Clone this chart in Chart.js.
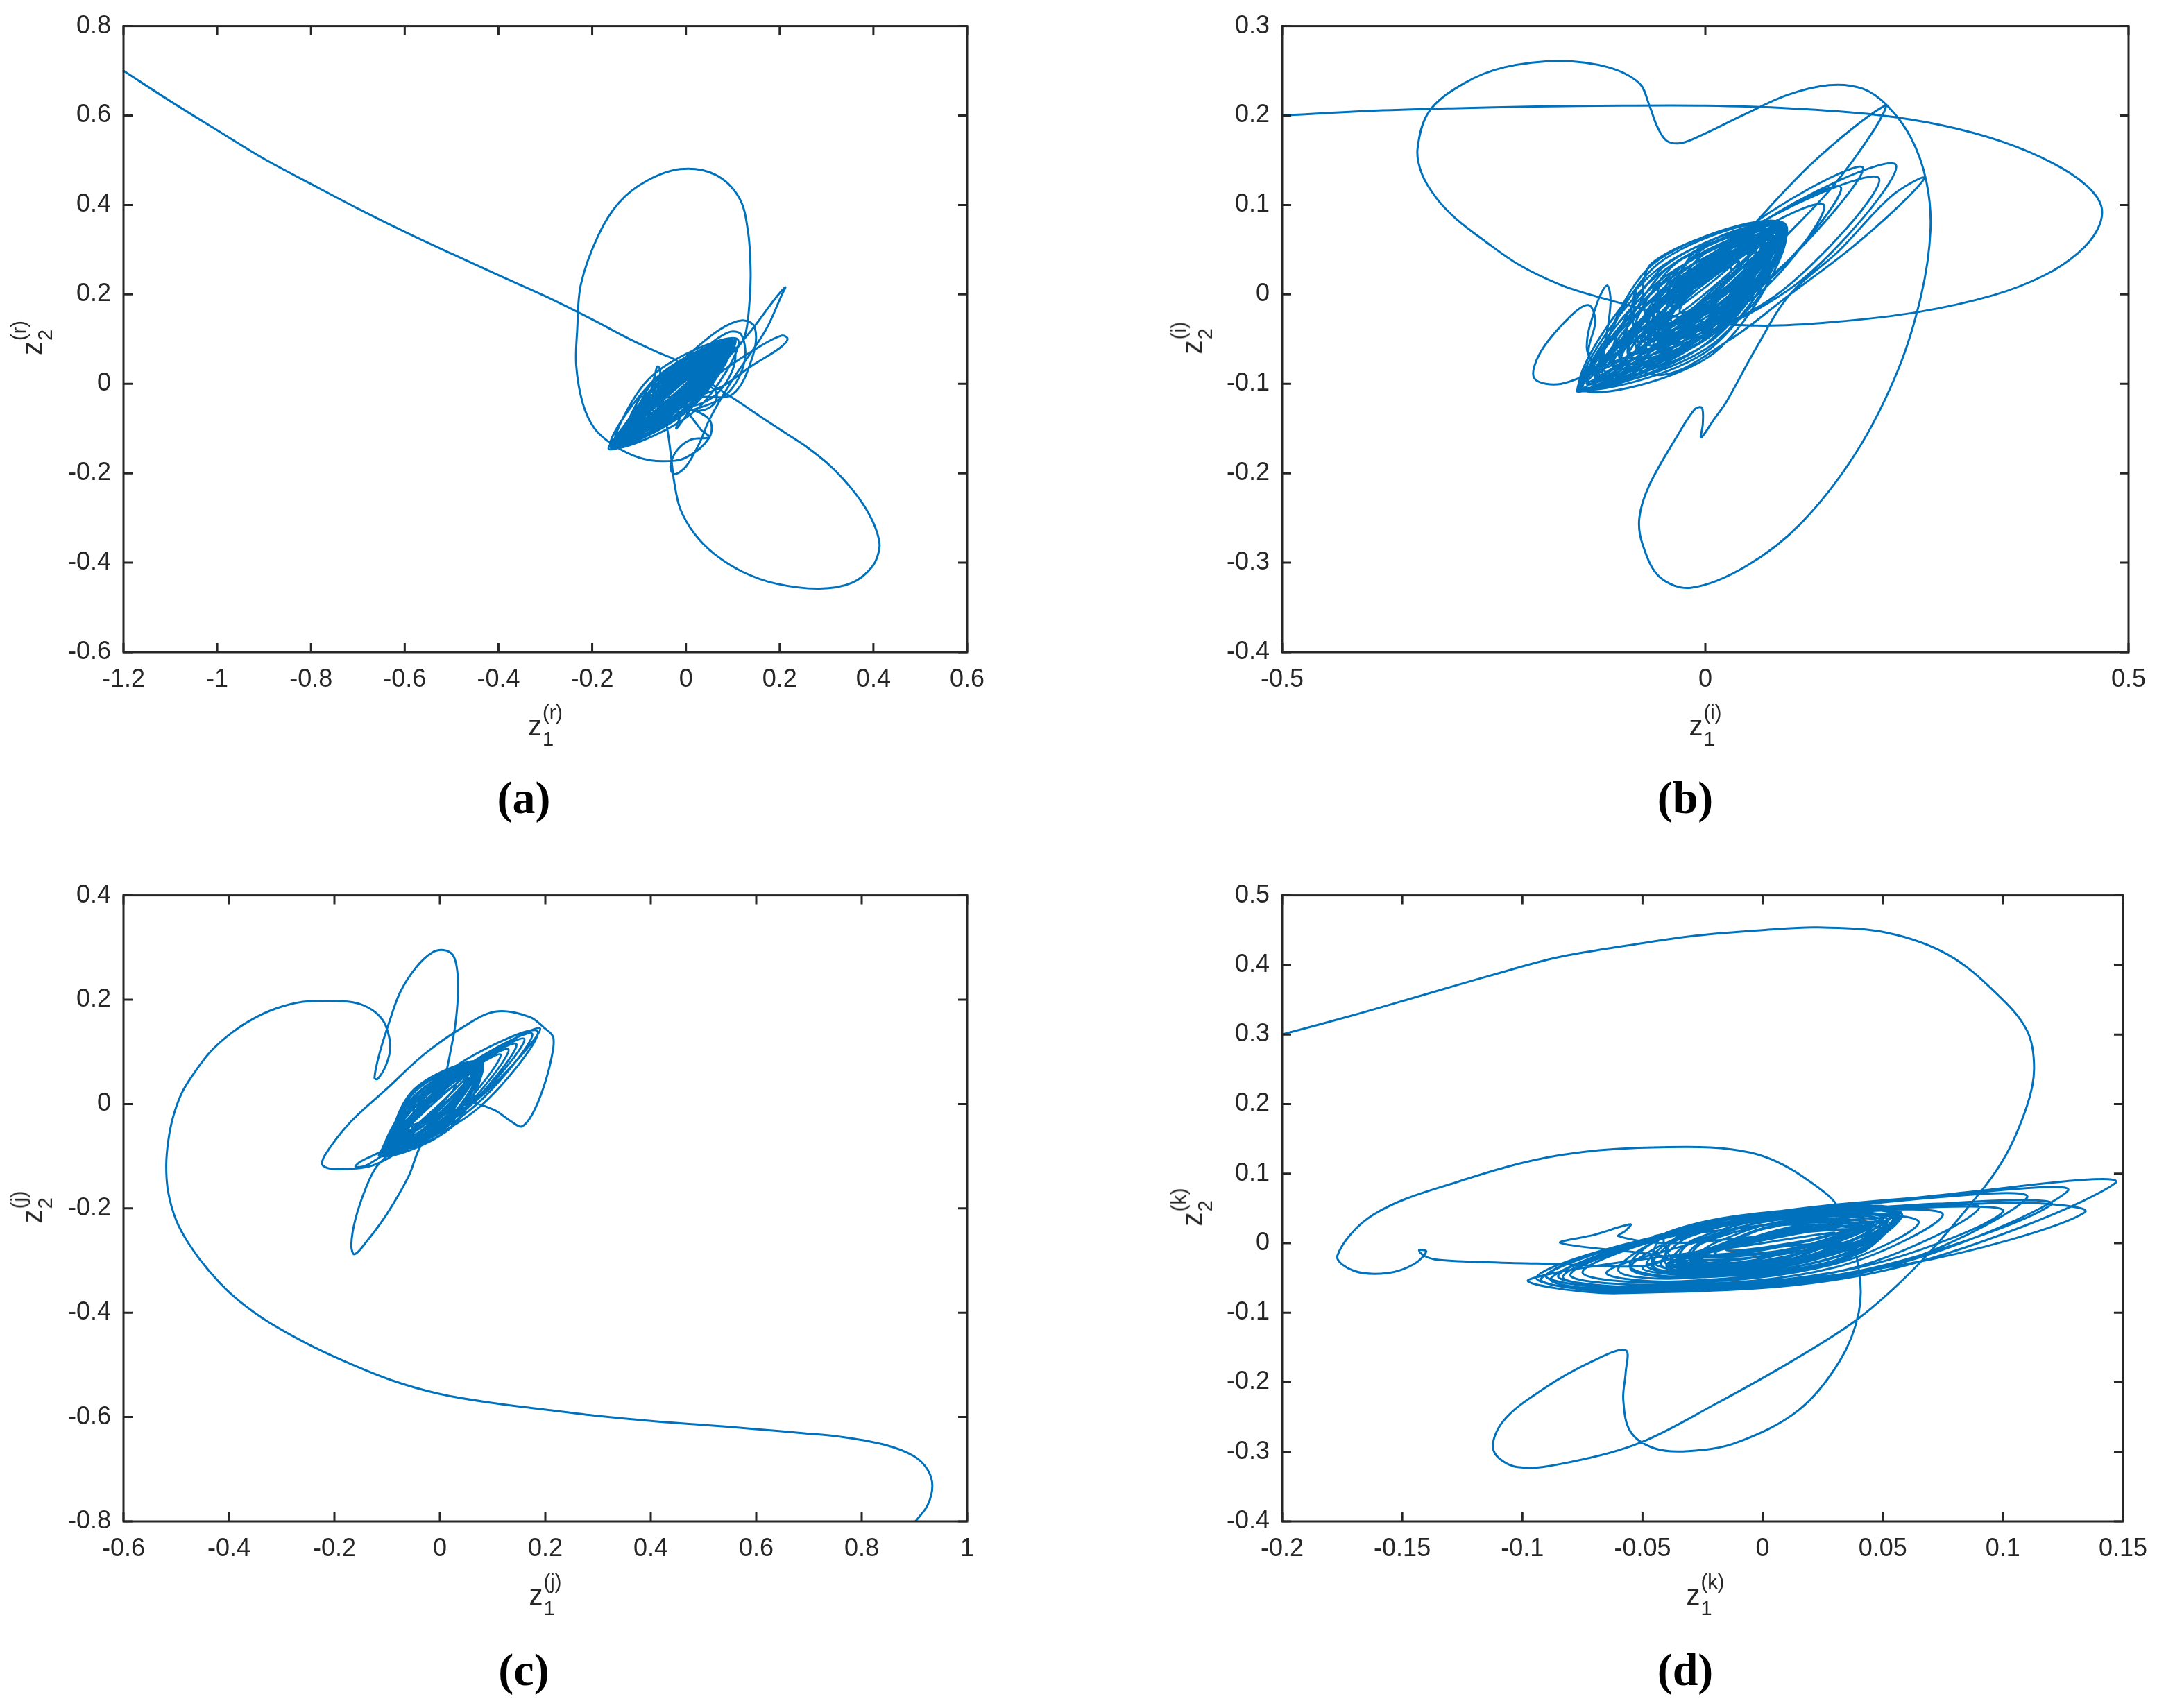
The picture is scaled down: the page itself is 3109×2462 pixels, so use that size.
<!DOCTYPE html>
<html>
<head>
<meta charset="utf-8">
<script src="https://cdn.jsdelivr.net/npm/chart.js@4.4.1/dist/chart.umd.min.js"></script>
<style>
  html, body { margin: 0; padding: 0; background: #fff; }
  body { width: 3109px; height: 2462px; position: relative; overflow: hidden; font-family: "Liberation Sans", Arial, sans-serif; color: #262626; }
  .panel { position: absolute; }
  .xt, .yt { position: absolute; white-space: nowrap; font-size: 40px; line-height: 1; display: flex; align-items: center; }
  .xt { transform: translate(-50%, -50%); }
  .yt { transform: translate(-50%, -50%) rotate(-90deg); }
  .ss { display: inline-flex; flex-direction: column; font-size: 29px; line-height: 1; margin-left: 1px; }
  .ss .sup { transform: translateY(-4px); }
  .ss .sub { transform: translateY(5px); }
  .tag { position: absolute; transform: translate(-50%, -50%); font-family: "Liberation Serif", "DejaVu Serif", serif; font-weight: bold; font-size: 66px; color: #000; }
</style>
</head>
<body>

<div class="panel" style="left:28px;top:-2px;width:1411px;height:1022px"><canvas id="chartA" width="1411" height="1022"></canvas></div>
<div class="panel" style="left:1698px;top:-2px;width:1415px;height:1022px"><canvas id="chartB" width="1415" height="1022"></canvas></div>
<div class="panel" style="left:28px;top:1251px;width:1411px;height:1022px"><canvas id="chartC" width="1411" height="1022"></canvas></div>
<div class="panel" style="left:1698px;top:1251px;width:1415px;height:1022px"><canvas id="chartD" width="1415" height="1022"></canvas></div>

<div class="xt" style="left:786px;top:1046px">z<span class="ss"><span class="sup">(r)</span><span class="sub">1</span></span></div>
<div class="yt" style="left:46px;top:487px">z<span class="ss"><span class="sup">(r)</span><span class="sub">2</span></span></div>
<div class="xt" style="left:2458px;top:1046px">z<span class="ss"><span class="sup">(i)</span><span class="sub">1</span></span></div>
<div class="yt" style="left:1718px;top:487px">z<span class="ss"><span class="sup">(i)</span><span class="sub">2</span></span></div>
<div class="xt" style="left:786px;top:2299px">z<span class="ss"><span class="sup">(j)</span><span class="sub">1</span></span></div>
<div class="yt" style="left:46px;top:1740px">z<span class="ss"><span class="sup">(j)</span><span class="sub">2</span></span></div>
<div class="xt" style="left:2458px;top:2299px">z<span class="ss"><span class="sup">(k)</span><span class="sub">1</span></span></div>
<div class="yt" style="left:1718px;top:1740px">z<span class="ss"><span class="sup">(k)</span><span class="sub">2</span></span></div>

<div class="tag" style="left:755px;top:1150px">(a)</div>
<div class="tag" style="left:2429px;top:1150px">(b)</div>
<div class="tag" style="left:755px;top:2407px">(c)</div>
<div class="tag" style="left:2429px;top:2407px">(d)</div>

<script>
// (a) z1(r) vs z2(r)
const aApproach = [
    [-1.2, 0.700], [-1.1, 0.632], [-1.0, 0.567], [-0.9, 0.503], [-0.8, 0.447], [-0.7, 0.392],
    [-0.6, 0.340], [-0.5, 0.291], [-0.4, 0.243], [-0.3, 0.196], [-0.2, 0.144], [-0.12, 0.100],
    [-0.05, 0.066], [-0.023, 0.054], [0.03, 0.016], [0.105, -0.035], [0.16, -0.074], [0.22, -0.115],
    [0.26, -0.143], [0.30, -0.176], [0.335, -0.212], [0.365, -0.250], [0.390, -0.290], [0.407, -0.330],
    [0.413, -0.365], [0.398, -0.408], [0.354, -0.445], [0.285, -0.458], [0.193, -0.447], [0.12, -0.420],
    [0.06, -0.380], [0.018, -0.335], [-0.012, -0.280], [-0.025, -0.220], [-0.032, -0.160], [-0.040, -0.100],
    [-0.050, -0.060]
];
const aFill = [
    [-0.120, -0.106], [-0.026, -0.028], [0.060, 0.059], [-0.034, -0.019],
    [-0.100, -0.088], [-0.003, -0.013], [0.080, 0.077], [-0.017, 0.002],
    [-0.140, -0.124], [-0.042, -0.051], [0.040, 0.040], [-0.058, -0.033],
    [-0.080, -0.070], [0.010, 0.002], [0.090, 0.086], [0.000, 0.014],
    [-0.150, -0.133], [-0.060, -0.061], [0.020, 0.022], [-0.070, -0.050],
    [-0.060, -0.050], [0.027, 0.015], [0.100, 0.095], [0.013, 0.030],
    [-0.130, -0.115], [-0.028, -0.026], [0.070, 0.068], [-0.032, -0.021],
    [-0.155, -0.138], [-0.025, -0.025], [0.100, 0.094], [-0.030, -0.019],
    [-0.110, -0.098], [0.003, -0.016], [0.095, 0.090], [-0.018, 0.008],
    [-0.140, -0.126], [-0.015, -0.036], [0.085, 0.080], [-0.040, -0.010]
];
const aCore = [
    [-0.156, -0.139], [-0.004, -0.048], [0.100, 0.095], [-0.052, 0.004],
    [-0.150, -0.133], [-0.009, -0.042], [0.095, 0.090], [-0.046, 0.000],
    [-0.160, -0.140], [-0.020, -0.045], [0.090, 0.082], [-0.050, -0.013],
    [-0.140, -0.125], [0.007, -0.047], [0.100, 0.090], [-0.047, 0.012],
    [-0.120, -0.105], [0.003, -0.035], [0.085, 0.080], [-0.038, 0.010],
    [-0.100, -0.090], [0.002, -0.031], [0.070, 0.065], [-0.032, 0.006],
    [-0.158, -0.140], [0.004, -0.053], [0.105, 0.100], [-0.057, 0.013],
    [-0.080, -0.070], [0.004, -0.021], [0.060, 0.058], [-0.024, 0.009],
    [-0.165, -0.145], [0.000, -0.063], [0.098, 0.092], [-0.067, 0.010],
    [-0.130, -0.120], [-0.005, -0.024], [0.100, 0.095], [-0.025, -0.001],
    [-0.155, -0.140], [-0.031, -0.040], [0.080, 0.075], [-0.044, -0.025],
    [-0.145, -0.130], [0.010, -0.055], [0.095, 0.085], [-0.060, 0.015],
    [-0.160, -0.142], [0.020, -0.060], [0.110, 0.100], [-0.070, 0.020],
    [-0.152, -0.137], [-0.014, -0.036], [0.098, 0.094], [-0.041, -0.007],
    [-0.145, -0.130], [-0.018, -0.030], [0.092, 0.088], [-0.035, -0.012],
    [-0.135, -0.122], [0.001, -0.037], [0.097, 0.092], [-0.039, 0.007],
    [-0.125, -0.112], [-0.003, -0.030], [0.090, 0.085], [-0.032, 0.003],
    [-0.110, -0.100], [0.016, -0.031], [0.095, 0.090], [-0.031, 0.021],
    [-0.090, -0.080], [0.014, -0.023], [0.080, 0.075], [-0.024, 0.018],
    [-0.157, -0.140], [-0.022, -0.027], [0.102, 0.097], [-0.033, -0.016],
    [-0.148, -0.135], [-0.011, -0.051], [0.085, 0.078], [-0.052, -0.006],
    [-0.160, -0.143], [-0.003, -0.055], [0.100, 0.093], [-0.057, 0.005],
    [-0.140, -0.128], [0.011, -0.049], [0.102, 0.096], [-0.049, 0.017],
    [-0.070, -0.060], [0.000, -0.016], [0.050, 0.050], [-0.020, 0.006],
    [-0.115, -0.105], [-0.010, -0.029], [0.075, 0.070], [-0.030, -0.006],
    [-0.155, -0.138], [-0.013, -0.042], [0.096, 0.092], [-0.046, -0.005],
    [-0.150, -0.135], [0.009, -0.056], [0.100, 0.096], [-0.059, 0.017],
    [-0.110, -0.100], [0.000, -0.040]
];
const aLoops = [
    [0.030, -0.030], [0.100, -0.023], [0.142, 0.060], [0.147, 0.126], [0.120, 0.142], [0.070, 0.120],
    [0.000, 0.060], [-0.060, 0.000], [-0.030, -0.060], [0.027, -0.054], [0.090, -0.020], [0.125, 0.050],
    [0.118, 0.110], [0.090, 0.115], [0.030, 0.070], [-0.040, 0.000], [-0.020, -0.050], [0.050, -0.035],
    [0.095, 0.020], [0.105, 0.080], [0.085, 0.095], [0.040, 0.060], [0.000, -0.005], [0.000, -0.050],
    [0.030, -0.060], [0.060, -0.045], [0.065, -0.020], [0.045, -0.005], [0.015, -0.020], [-0.020, -0.100],
    [0.060, 0.020], [0.140, 0.120], [0.190, 0.190], [0.212, 0.216], [0.205, 0.200], [0.170, 0.120],
    [0.100, 0.010], [0.050, -0.080], [0.030, -0.130], [0.000, -0.185], [-0.025, -0.202], [-0.033, -0.185],
    [-0.020, -0.150], [0.010, -0.125], [0.049, -0.119], [0.030, -0.100], [0.000, -0.040], [0.080, 0.030],
    [0.160, 0.085], [0.205, 0.108], [0.217, 0.100], [0.200, 0.080], [0.140, 0.040], [0.070, -0.010],
    [0.000, -0.030], [-0.070, -0.020], [-0.065, 0.025], [-0.060, 0.039], [-0.055, 0.030], [-0.055, -0.010],
    [0.000, -0.050]
];
const aTallLoop = [
    [0.050, -0.080], [0.050, -0.120], [0.000, -0.165], [-0.050, -0.173], [-0.100, -0.165], [-0.156, -0.136],
    [-0.195, -0.100], [-0.220, -0.044], [-0.234, 0.040], [-0.232, 0.120], [-0.224, 0.223], [-0.187, 0.332],
    [-0.143, 0.405], [-0.085, 0.453], [-0.012, 0.480], [0.062, 0.468], [0.113, 0.417], [0.132, 0.344],
    [0.138, 0.251], [0.135, 0.174], [0.125, 0.105], [0.100, 0.070], [0.050, 0.030]
];

// (b) z1(i) vs z2(i)
const bApproach = [
    [-0.5, 0.200], [-0.4, 0.205], [-0.3, 0.208], [-0.2, 0.210], [-0.1, 0.211], [0.0, 0.211],
    [0.1, 0.208], [0.2, 0.201], [0.28, 0.189], [0.35, 0.171], [0.41, 0.147], [0.45, 0.122],
    [0.468, 0.098], [0.463, 0.072], [0.44, 0.046], [0.40, 0.021], [0.34, -0.001], [0.25, -0.020],
    [0.15, -0.031], [0.07, -0.035], [0.0, -0.031], [-0.074, -0.016], [-0.13, -0.002], [-0.172, 0.011],
    [-0.22, 0.033], [-0.261, 0.060], [-0.295, 0.085], [-0.318, 0.108], [-0.335, 0.135], [-0.340, 0.163],
    [-0.326, 0.205], [-0.285, 0.236], [-0.237, 0.254], [-0.172, 0.261], [-0.115, 0.254], [-0.078, 0.236],
    [-0.066, 0.211], [-0.057, 0.188], [-0.046, 0.172], [-0.030, 0.169], [-0.009, 0.176], [0.048, 0.202],
    [0.097, 0.223], [0.146, 0.234], [0.186, 0.230], [0.215, 0.211], [0.243, 0.175], [0.261, 0.127],
    [0.266, 0.072], [0.255, -0.001], [0.227, -0.086], [0.178, -0.177], [0.113, -0.256], [0.048, -0.304],
    [-0.017, -0.328], [-0.054, -0.316], [-0.074, -0.280], [-0.078, -0.250], [-0.066, -0.213], [-0.033, -0.158],
    [-0.012, -0.128], [-0.004, -0.127], [-0.003, -0.145], [-0.005, -0.160], [0.010, -0.140], [0.025, -0.120],
    [0.060, -0.060], [0.100, 0.000], [0.157, 0.048], [0.220, 0.110], [0.259, 0.131], [0.230, 0.100],
    [0.170, 0.050], [0.100, 0.000], [0.030, -0.050], [-0.050, -0.090]
];
const bFill = [
    [-0.100, -0.068], [-0.017, -0.012], [0.060, 0.052], [-0.023, -0.004],
    [-0.120, -0.083], [-0.013, -0.018], [0.080, 0.067], [-0.027, 0.002],
    [-0.080, -0.053], [0.011, 0.003], [0.090, 0.075], [-0.001, 0.019],
    [-0.140, -0.098], [-0.044, -0.039], [0.040, 0.037], [-0.056, -0.023],
    [-0.060, -0.038], [0.027, 0.002], [0.090, 0.074], [0.003, 0.034],
    [-0.130, -0.090], [-0.018, -0.031], [0.070, 0.060], [-0.042, 0.001],
    [-0.090, -0.065], [-0.002, -0.034], [0.050, 0.045], [-0.038, 0.014],
    [-0.070, -0.050], [0.020, -0.013], [0.080, 0.065], [-0.010, 0.028],
    [-0.110, -0.078], [-0.028, -0.040], [0.030, 0.030], [-0.052, -0.008],
    [-0.050, -0.035], [0.017, 0.000], [0.070, 0.055], [0.003, 0.020],
    [-0.066, -0.050], [0.039, -0.018], [0.094, 0.077], [-0.011, 0.045],
    [-0.060, -0.046], [0.034, -0.009], [0.090, 0.074], [-0.004, 0.037],
    [-0.055, -0.043], [0.027, -0.002], [0.085, 0.070], [0.003, 0.029],
    [-0.050, -0.040], [0.021, 0.005], [0.080, 0.066], [0.009, 0.021],
    [-0.065, -0.050], [0.036, -0.014], [0.094, 0.077], [-0.007, 0.041],
    [-0.040, -0.030], [0.031, -0.005], [0.070, 0.060], [-0.001, 0.035],
    [-0.066, -0.050], [0.021, -0.001], [0.090, 0.072], [0.003, 0.023],
    [-0.030, -0.020], [0.024, 0.003], [0.060, 0.050], [0.006, 0.027],
    [-0.060, -0.048], [0.045, -0.022], [0.094, 0.075], [-0.011, 0.049],
    [-0.050, -0.045], [0.018, 0.010], [0.080, 0.072], [0.012, 0.017]
];
const bCore = [
    [-0.151, -0.106], [0.001, -0.055], [0.093, 0.077], [-0.059, 0.026],
    [-0.148, -0.104], [-0.005, -0.048], [0.090, 0.072], [-0.053, 0.016],
    [-0.140, -0.098], [0.011, -0.054], [0.095, 0.078], [-0.056, 0.034],
    [-0.120, -0.085], [0.010, -0.044], [0.085, 0.070], [-0.045, 0.029],
    [-0.100, -0.075], [0.014, -0.037], [0.080, 0.065], [-0.034, 0.027],
    [-0.151, -0.106], [-0.026, -0.043], [0.070, 0.060], [-0.056, -0.003],
    [-0.080, -0.060], [0.016, -0.031], [0.070, 0.055], [-0.026, 0.026],
    [-0.145, -0.105], [0.011, -0.065], [0.093, 0.075], [-0.063, 0.035],
    [-0.060, -0.045], [0.015, -0.020], [0.060, 0.045], [-0.015, 0.020],
    [-0.130, -0.095], [-0.002, -0.036], [0.090, 0.072], [-0.038, 0.013],
    [-0.150, -0.105], [-0.003, -0.051], [0.090, 0.075], [-0.057, 0.021],
    [-0.146, -0.103], [-0.008, -0.045], [0.088, 0.070], [-0.050, 0.012],
    [-0.140, -0.100], [-0.016, -0.032], [0.085, 0.068], [-0.040, 0.000],
    [-0.130, -0.094], [0.011, -0.049], [0.092, 0.076], [-0.049, 0.031],
    [-0.110, -0.080], [0.017, -0.039], [0.090, 0.074], [-0.037, 0.033],
    [-0.090, -0.070], [0.022, -0.032], [0.085, 0.070], [-0.027, 0.032],
    [-0.070, -0.055], [0.021, -0.021], [0.075, 0.062], [-0.016, 0.028],
    [-0.050, -0.040], [0.020, -0.009], [0.065, 0.055], [-0.005, 0.024],
    [-0.151, -0.107], [-0.030, -0.029], [0.080, 0.065], [-0.042, -0.013],
    [-0.149, -0.105], [0.007, -0.060], [0.093, 0.078], [-0.063, 0.033],
    [-0.120, -0.090], [0.002, -0.033], [0.088, 0.072], [-0.034, 0.015],
    [-0.100, -0.078], [0.000, -0.030], [0.070, 0.058], [-0.030, 0.010],
    [-0.145, -0.104], [-0.017, -0.046], [0.075, 0.060], [-0.053, 0.002],
    [-0.130, -0.095], [-0.009, -0.020], [0.094, 0.079], [-0.027, 0.004],
    [-0.080, -0.065], [0.071, 0.015], [0.186, 0.142], [0.035, 0.063],
    [-0.060, -0.060], [0.107, 0.011], [0.225, 0.145], [0.059, 0.075],
    [-0.070, -0.060], [0.063, 0.006], [0.160, 0.120], [0.027, 0.054],
    [-0.050, -0.050], [0.063, 0.001], [0.140, 0.100], [0.027, 0.049],
    [-0.090, -0.070], [0.082, -0.002], [0.205, 0.130], [0.034, 0.062],
    [-0.151, -0.106], [-0.100, -0.094], [-0.060, -0.075], [0.000, -0.045], [0.050, 0.020], [-0.020, -0.020],
    [-0.080, -0.060]
];
const bLoops = [
    [0.048, 0.069], [0.130, 0.150], [0.212, 0.211], [0.200, 0.185], [0.150, 0.120], [0.090, 0.060],
    [0.000, -0.030], [-0.120, -0.080], [-0.170, -0.100], [-0.202, -0.094], [-0.195, -0.065], [-0.160, -0.025],
    [-0.138, -0.012], [-0.130, -0.030], [-0.138, -0.065], [-0.125, -0.090], [-0.140, -0.060], [-0.128, -0.010],
    [-0.116, 0.010], [-0.112, -0.010], [-0.120, -0.060], [-0.130, -0.090], [-0.100, -0.060], [-0.082, 0.006],
    [-0.085, -0.040], [-0.070, -0.050], [-0.054, 0.012], [-0.060, -0.030], [-0.040, -0.040], [0.000, -0.010]
];

// (c) z1(j) vs z2(j)
const cApproach = [
    [0.902, -0.800], [0.925, -0.769], [0.934, -0.732], [0.925, -0.701], [0.899, -0.675], [0.847, -0.654],
    [0.769, -0.639], [0.68, -0.630], [0.599, -0.623], [0.50, -0.615], [0.404, -0.608], [0.30, -0.598],
    [0.209, -0.587], [0.10, -0.573], [0.001, -0.556], [-0.09, -0.530], [-0.181, -0.493], [-0.26, -0.455],
    [-0.337, -0.410], [-0.395, -0.365], [-0.441, -0.316], [-0.476, -0.268], [-0.500, -0.223], [-0.515, -0.170],
    [-0.519, -0.119], [-0.515, -0.070], [-0.506, -0.025], [-0.490, 0.020], [-0.467, 0.058], [-0.438, 0.097],
    [-0.402, 0.131], [-0.36, 0.160], [-0.311, 0.183], [-0.26, 0.196], [-0.207, 0.198], [-0.165, 0.195],
    [-0.142, 0.188], [-0.118, 0.172], [-0.103, 0.151], [-0.094, 0.110], [-0.102, 0.075], [-0.118, 0.048],
    [-0.124, 0.050], [-0.115, 0.095], [-0.095, 0.160], [-0.075, 0.215], [-0.045, 0.262], [-0.015, 0.290],
    [0.007, 0.295], [0.025, 0.285], [0.033, 0.255], [0.034, 0.205], [0.029, 0.150], [0.020, 0.100],
    [0.012, 0.060], [0.005, 0.030]
];
const cFill = [
    [-0.090, -0.077], [-0.012, -0.011], [0.060, 0.062], [-0.018, -0.004],
    [-0.100, -0.086], [-0.007, -0.017], [0.070, 0.070], [-0.023, 0.001],
    [-0.070, -0.058], [0.009, 0.001], [0.075, 0.075], [-0.004, 0.016],
    [-0.105, -0.090], [-0.031, -0.035], [0.030, 0.035], [-0.044, -0.020],
    [-0.050, -0.040], [0.028, 0.004], [0.078, 0.078], [0.001, 0.034],
    [-0.095, -0.083], [-0.009, -0.030], [0.050, 0.052], [-0.036, -0.001],
    [-0.080, -0.070], [0.003, -0.014], [0.065, 0.065], [-0.018, 0.009]
];
const cCore = [
    [-0.110, -0.095], [0.012, -0.037], [0.079, 0.079], [-0.043, 0.021],
    [-0.105, -0.090], [0.005, -0.030], [0.075, 0.075], [-0.035, 0.015],
    [-0.110, -0.098], [0.019, -0.046], [0.080, 0.080], [-0.049, 0.028],
    [-0.090, -0.080], [0.009, -0.031], [0.060, 0.070], [-0.039, 0.021],
    [-0.070, -0.060], [0.010, -0.025], [0.050, 0.055], [-0.030, 0.020],
    [-0.105, -0.097], [-0.004, -0.028], [0.070, 0.070], [-0.031, 0.001],
    [-0.108, -0.094], [0.001, -0.027], [0.077, 0.077], [-0.032, 0.010],
    [-0.100, -0.088], [0.016, -0.041], [0.070, 0.072], [-0.046, 0.025],
    [-0.095, -0.085], [0.015, -0.029], [0.078, 0.078], [-0.032, 0.022],
    [-0.085, -0.075], [0.010, -0.019], [0.072, 0.074], [-0.023, 0.018],
    [-0.060, -0.050], [0.014, -0.010], [0.060, 0.060], [-0.014, 0.020],
    [-0.110, -0.097], [-0.002, -0.040], [0.065, 0.062], [-0.043, 0.005],
    [-0.112, -0.099], [-0.008, -0.018], [0.080, 0.080], [-0.024, -0.001],
    [-0.100, -0.090], [0.023, -0.044], [0.078, 0.076], [-0.045, 0.030],
    [-0.075, -0.068], [0.021, -0.026], [0.070, 0.068], [-0.026, 0.026],
    [-0.105, -0.092], [-0.010, -0.030], [0.060, 0.058], [-0.035, -0.004],
    [-0.090, -0.083], [0.022, -0.031], [0.080, 0.080], [-0.032, 0.028],
    [-0.108, -0.100], [0.060, -0.001], [0.190, 0.145], [0.022, 0.046],
    [-0.100, -0.098], [0.060, -0.009], [0.175, 0.135], [0.015, 0.046],
    [-0.095, -0.095], [0.052, -0.008], [0.160, 0.125], [0.013, 0.038],
    [-0.090, -0.090], [0.047, -0.011], [0.145, 0.115], [0.008, 0.036],
    [-0.085, -0.090], [0.040, -0.014], [0.130, 0.105], [0.005, 0.029],
    [-0.080, -0.085], [0.033, -0.014], [0.115, 0.095], [0.002, 0.024],
    [-0.115, -0.100], [0.064, -0.015], [0.185, 0.140], [0.006, 0.055],
    [-0.108, -0.096], [0.015, -0.040], [0.070, 0.060], [-0.040, 0.010],
    [-0.060, -0.070]
];
const cLoops = [
    [-0.120, -0.115], [-0.190, -0.125], [-0.222, -0.118], [-0.218, -0.098], [-0.170, -0.035], [-0.100, 0.030],
    [-0.030, 0.095], [0.040, 0.145], [0.105, 0.177], [0.170, 0.167], [0.198, 0.146], [0.215, 0.128],
    [0.212, 0.090], [0.196, 0.030], [0.175, -0.020], [0.155, -0.043], [0.135, -0.033], [0.100, -0.010],
    [0.050, 0.000], [-0.030, -0.070], [-0.060, -0.140], [-0.100, -0.210], [-0.140, -0.265], [-0.162, -0.288],
    [-0.168, -0.270], [-0.160, -0.220], [-0.140, -0.160], [-0.120, -0.120], [-0.080, -0.080], [-0.140, -0.118],
    [-0.160, -0.120], [-0.150, -0.110], [-0.110, -0.090], [-0.040, -0.040], [0.020, 0.020]
];

// (d) z1(k) vs z2(k)
const dApproach = [
    [-0.200, 0.300], [-0.170, 0.328], [-0.142, 0.356], [-0.114, 0.384], [-0.085, 0.411], [-0.056, 0.428],
    [-0.028, 0.442], [0.000, 0.450], [0.023, 0.454], [0.052, 0.446], [0.077, 0.415], [0.097, 0.360],
    [0.110, 0.306], [0.113, 0.251], [0.110, 0.197], [0.100, 0.119], [0.083, 0.041], [0.063, -0.037],
    [0.040, -0.108], [0.012, -0.170], [-0.020, -0.232], [-0.051, -0.287], [-0.079, -0.314], [-0.102, -0.322],
    [-0.112, -0.298], [-0.108, -0.256], [-0.091, -0.209], [-0.071, -0.170], [-0.057, -0.154], [-0.057, -0.186],
    [-0.058, -0.225], [-0.055, -0.271], [-0.045, -0.295], [-0.031, -0.299], [-0.011, -0.287], [0.015, -0.240],
    [0.032, -0.170], [0.040, -0.100], [0.040, -0.037], [0.035, 0.000]
];
const dFill = [
    [-0.035, -0.028], [0.010, -0.020], [0.050, 0.035], [0.005, 0.015],
    [-0.030, -0.022], [0.015, -0.012], [0.048, 0.030], [0.000, 0.010],
    [-0.025, -0.020], [0.020, -0.005], [0.045, 0.028], [0.000, 0.004],
    [-0.038, -0.030], [0.005, -0.015], [0.052, 0.040], [0.010, 0.022],
    [-0.020, -0.015], [0.015, 0.000], [0.040, 0.025], [0.000, 0.008],
    [-0.040, -0.030], [0.000, -0.022], [0.055, 0.040], [0.015, 0.025],
    [-0.030, -0.026], [0.010, -0.025], [0.050, 0.020], [0.010, 0.018],
    [-0.035, -0.025], [-0.005, -0.028], [0.045, 0.015], [0.020, 0.025],
    [-0.025, -0.015], [0.005, -0.012], [0.040, 0.018], [0.010, 0.012],
    [-0.040, -0.033], [0.020, -0.020], [0.055, 0.045], [0.000, 0.020],
    [-0.015, -0.010], [0.020, 0.005], [0.035, 0.020], [0.005, 0.010],
    [-0.030, -0.020], [0.000, -0.010], [0.030, 0.015], [0.000, 0.000]
];
const dCore = [
    [-0.097, -0.052], [-0.060, -0.072], [0.050, -0.040], [0.147, 0.087], [0.090, 0.075], [-0.030, 0.020],
    [-0.094, -0.048], [-0.055, -0.070], [0.060, -0.030], [0.134, 0.044], [0.100, 0.058], [-0.020, 0.025],
    [-0.090, -0.045], [-0.050, -0.066], [0.050, -0.035], [0.127, 0.075], [0.080, 0.070], [-0.020, 0.030],
    [-0.088, -0.050], [-0.050, -0.068], [0.040, -0.040], [0.120, 0.055], [0.080, 0.058], [-0.030, 0.020],
    [-0.092, -0.050], [-0.058, -0.069], [0.045, -0.040], [0.110, 0.065], [0.070, 0.065], [-0.025, 0.022],
    [-0.085, -0.046], [-0.045, -0.063], [0.040, -0.035], [0.100, 0.045], [0.060, 0.050], [-0.030, 0.018],
    [-0.083, -0.047], [-0.048, -0.065], [0.035, -0.038], [0.090, 0.050], [0.050, 0.052], [-0.032, 0.016],
    [-0.080, -0.045], [-0.040, -0.060], [0.030, -0.035], [0.075, 0.040], [0.040, 0.046], [-0.035, 0.012],
    [-0.075, -0.042], [-0.035, -0.057], [0.030, -0.030], [0.065, 0.030], [0.030, 0.040], [-0.040, 0.008],
    [-0.060, -0.040], [-0.030, -0.050], [0.030, -0.020], [0.056, 0.040], [0.020, 0.045], [-0.040, 0.010],
    [-0.055, -0.035], [-0.020, -0.048], [0.040, -0.015], [0.055, 0.045], [0.020, 0.050], [-0.040, 0.015],
    [-0.045, -0.035], [-0.020, -0.045], [0.030, -0.012], [0.055, 0.035], [0.010, 0.040], [-0.035, 0.005],
    [-0.045, -0.030], [-0.015, -0.040], [0.040, -0.005], [0.057, 0.040], [0.020, 0.048], [-0.035, 0.010],
    [-0.040, -0.030], [-0.010, -0.040], [0.035, -0.010], [0.050, 0.030], [0.010, 0.035], [-0.030, 0.000],
    [-0.035, -0.028], [-0.005, -0.035], [0.035, 0.000], [0.045, 0.025], [0.010, 0.030], [-0.025, 0.000],
    [-0.030, -0.025], [0.000, -0.030], [0.030, 0.005], [0.040, 0.020], [0.005, 0.025], [-0.020, -0.005],
    [-0.050, -0.036], [-0.020, -0.046], [0.035, -0.020], [0.057, 0.042], [0.025, 0.048], [-0.035, 0.008],
    [-0.048, -0.034], [-0.015, -0.043], [0.030, -0.015], [0.055, 0.040], [0.020, 0.045], [-0.030, 0.010],
    [-0.042, -0.033], [-0.010, -0.040], [0.035, -0.010], [0.054, 0.036], [0.015, 0.042], [-0.028, 0.006],
    [-0.038, -0.030], [-0.005, -0.036], [0.030, -0.005], [0.050, 0.033], [0.012, 0.038], [-0.025, 0.003],
    [-0.032, -0.027], [0.000, -0.032], [0.030, 0.000], [0.046, 0.028], [0.010, 0.032], [-0.020, 0.000],
    [-0.028, -0.024], [0.002, -0.027], [0.028, 0.004], [0.042, 0.024], [0.008, 0.027], [-0.018, -0.003],
    [-0.046, -0.034], [-0.012, -0.044], [0.038, -0.012], [0.056, 0.043], [0.022, 0.047], [-0.033, 0.010],
    [-0.055, -0.037], [-0.025, -0.049], [0.035, -0.022], [0.057, 0.045], [0.025, 0.050], [-0.040, 0.012],
    [-0.035, -0.030], [-0.005, -0.038], [0.033, -0.008], [0.052, 0.035], [0.012, 0.040], [-0.025, 0.004],
    [-0.065, -0.042], [-0.035, -0.055], [0.030, -0.025], [0.058, 0.042], [0.025, 0.050], [-0.045, 0.010],
    [0.030, 0.048]
];
const dLoops = [
    [0.017, 0.095], [-0.005, 0.130], [-0.039, 0.138], [-0.085, 0.126], [-0.128, 0.087], [-0.162, 0.041],
    [-0.177, -0.018], [-0.170, -0.040], [-0.156, -0.043], [-0.145, -0.030], [-0.140, -0.012], [-0.143, -0.010],
    [-0.141, -0.018], [-0.135, -0.024], [-0.110, -0.028], [-0.085, -0.030], [-0.050, -0.033], [-0.040, -0.020],
    [-0.084, 0.000], [-0.070, 0.012], [-0.055, 0.027], [-0.057, 0.018], [-0.060, 0.010], [-0.040, 0.000],
    [0.000, 0.010]
];

const lineColor = '#0072BD';
const axisColor = '#262626';

const matlabBox = {
    id: 'matlabBox',
    afterDatasetsDraw(chart) {
        const { ctx, chartArea: { left, right, top, bottom }, scales: { x, y } } = chart;
        const tick = 13;
        ctx.save();
        ctx.strokeStyle = axisColor;
        ctx.lineWidth = 3;
        ctx.strokeRect(left, top, right - left, bottom - top);
        ctx.beginPath();
        x.ticks.forEach((t, i) => {
            const px = x.getPixelForTick(i);
            ctx.moveTo(px, bottom); ctx.lineTo(px, bottom - tick);
            ctx.moveTo(px, top); ctx.lineTo(px, top + tick);
        });
        y.ticks.forEach((t, i) => {
            const py = y.getPixelForTick(i);
            ctx.moveTo(left, py); ctx.lineTo(left + tick, py);
            ctx.moveTo(right, py); ctx.lineTo(right - tick, py);
        });
        ctx.stroke();
        ctx.restore();
    }
};

function toPoints(...parts) {
    return parts.flat().map(([x, y]) => ({ x, y }));
}

function tickLabel(v) {
    return String(Math.round(v * 100) / 100);
}

function makeChart(id, points, xr, yr) {
    const tickFont = { family: '"Liberation Sans", Arial, sans-serif', size: 36 };
    return new Chart(document.getElementById(id), {
        type: 'scatter',
        data: {
            datasets: [{
                data: points,
                showLine: true,
                borderColor: lineColor,
                borderWidth: 3,
                pointRadius: 0,
                tension: 0.35,
                fill: false
            }]
        },
        options: {
            responsive: false,
            animation: false,
            layout: { padding: { top: 20, right: 45, left: 0, bottom: 0 } },
            plugins: { legend: { display: false }, tooltip: { enabled: false } },
            scales: {
                x: {
                    type: 'linear', min: xr[0], max: xr[1],
                    grid: { display: false, drawTicks: false },
                    border: { display: false },
                    ticks: { stepSize: xr[2], color: axisColor, font: tickFont, padding: 18, maxRotation: 0, autoSkip: false, callback: tickLabel },
                    afterFit: s => { s.height = 80; }
                },
                y: {
                    type: 'linear', min: yr[0], max: yr[1],
                    grid: { display: false, drawTicks: false },
                    border: { display: false },
                    ticks: { stepSize: yr[2], color: axisColor, font: tickFont, padding: 18, autoSkip: false, callback: tickLabel },
                    afterFit: s => { s.width = 150; }
                }
            }
        },
        plugins: [matlabBox]
    });
}

makeChart('chartA', toPoints(aApproach, aFill, aCore, aLoops, aTallLoop), [-1.2, 0.6, 0.2], [-0.6, 0.8, 0.2]);
makeChart('chartB', toPoints(bApproach, bFill, bCore, bLoops), [-0.5, 0.5, 0.5], [-0.4, 0.3, 0.1]);
makeChart('chartC', toPoints(cApproach, cFill, cCore, cLoops), [-0.6, 1.0, 0.2], [-0.8, 0.4, 0.2]);
makeChart('chartD', toPoints(dApproach, dFill, dCore, dLoops), [-0.2, 0.15, 0.05], [-0.4, 0.5, 0.1]);
</script>
</body>
</html>
